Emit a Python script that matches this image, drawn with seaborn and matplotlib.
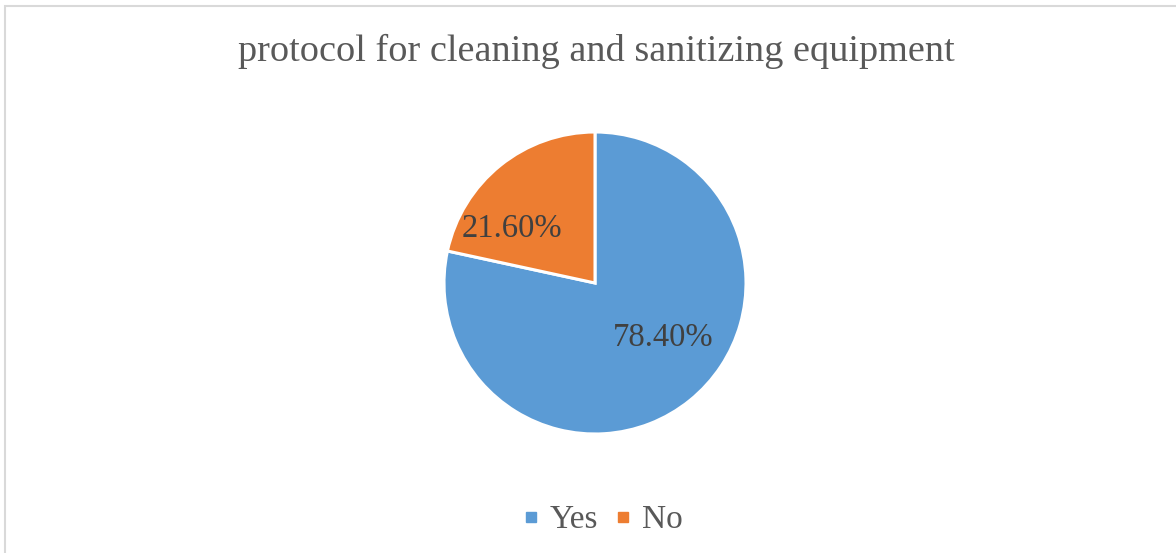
import matplotlib
matplotlib.use("Agg")
import matplotlib.pyplot as plt
from matplotlib.lines import Line2D
from matplotlib.patches import Rectangle
import seaborn as sns

categories = ["Yes", "No"]
shares = [78.40, 21.60]
colors = ["#5B9BD5", "#ED7D31"]
title = "protocol for cleaning and sanitizing equipment"

sns.set_theme(style="white")
plt.rcParams["font.family"] = ["Liberation Serif", "DejaVu Serif"]

W, H = 1176, 553
fig = plt.figure(figsize=(W / 100, H / 100), dpi=100)
fig.patch.set_facecolor("white")

# chart frame (only the top and left edges fall inside the image)
fig.add_artist(Rectangle((5 / W, -0.05), 1.2, (553 - 6) / H + 0.05,
                         transform=fig.transFigure, fill=False,
                         edgecolor="#D9D9D9", linewidth=1.5))

cx, cy, r = 595, 283, 151
ax = fig.add_axes([(cx - r) / W, (H - cy - r) / H, 2 * r / W, 2 * r / H])
wedges, texts, autotexts = ax.pie(
    shares, colors=colors, startangle=90, counterclock=False,
    autopct=lambda p: f"{p:.2f}%", pctdistance=0.6,
    wedgeprops=dict(edgecolor="white", linewidth=2.2),
    textprops=dict(fontsize=23.5, color="#404040"),
)
ax.set_aspect("equal")
ax.set_xlim(-1, 1)
ax.set_ylim(-1, 1)

# data label placement inside each slice
autotexts[0].set_position((0.45, -0.36))
autotexts[1].set_position((-0.55, 0.36))

fig.text(596 / W, 1 - 51 / H, title, ha="center", va="center",
         fontsize=27.5, color="#595959")

handles = [Line2D([], [], marker="s", linestyle="none", markersize=7.5,
                  markerfacecolor=c, markeredgecolor=c) for c in colors]
fig.legend(handles, categories, loc="center", bbox_to_anchor=(603 / W, 1 - 520 / H),
           ncol=2, frameon=False, fontsize=24, handlelength=0.45,
           handletextpad=0.35, columnspacing=0.5, labelcolor="#595959")

fig.savefig("out.png", dpi=100, facecolor="white")
